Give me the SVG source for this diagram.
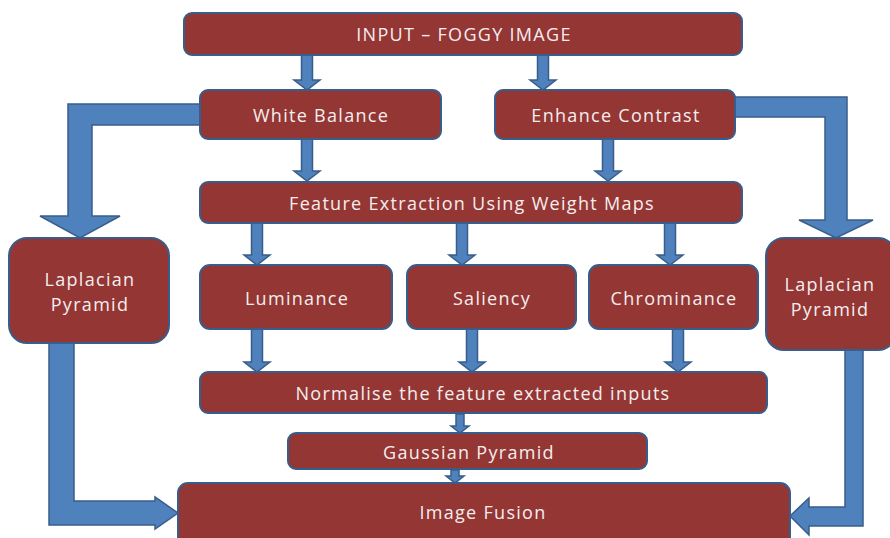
<svg xmlns="http://www.w3.org/2000/svg" width="890" height="538" viewBox="0 0 890 538">
<style>
.box{fill:#943634;stroke:#385d8a;stroke-width:2}
.arr{fill:#4f81bd;stroke:#385d8a;stroke-width:1.5;stroke-linejoin:miter}
.t{font-family:"Open Sans","Liberation Sans",sans-serif;font-size:18px;letter-spacing:1.3px;fill:#f4eeee;text-anchor:middle;dominant-baseline:central}
</style>
<rect width="890" height="538" fill="#ffffff"/>
<g id="connectors">
<path class="arr" d="M301.5 55 L312.5 55 L312.5 80 L320 80 L307 90 L294 80 L301.5 80 Z"/>
<path class="arr" d="M537.5 55 L548.5 55 L548.5 80 L556 80 L543 90 L530 80 L537.5 80 Z"/>
<path class="arr" d="M301.5 139 L312.5 139 L312.5 171 L320 171 L307 181 L294 171 L301.5 171 Z"/>
<path class="arr" d="M602.5 139 L613.5 139 L613.5 171 L621 171 L608 181 L595 171 L602.5 171 Z"/>
<path class="arr" d="M251.5 223 L262.5 223 L262.5 255 L270 255 L257 265 L244 255 L251.5 255 Z"/>
<path class="arr" d="M456.5 223 L467.5 223 L467.5 255 L475 255 L462 265 L449 255 L456.5 255 Z"/>
<path class="arr" d="M664.5 223 L675.5 223 L675.5 255 L683 255 L670 265 L657 255 L664.5 255 Z"/>
<path class="arr" d="M251.5 329 L262.5 329 L262.5 362 L270 362 L257 372 L244 362 L251.5 362 Z"/>
<path class="arr" d="M466.5 329 L477.5 329 L477.5 362 L485 362 L472 372 L459 362 L466.5 362 Z"/>
<path class="arr" d="M672.5 329 L683.5 329 L683.5 362 L691 362 L678 372 L665 362 L672.5 362 Z"/>
<path class="arr" d="M456 414 L464 414 L464 426 L469 426 L460 433 L451 426 L456 426 Z"/>
<path class="arr" d="M451 470 L459 470 L459 476 L464 476 L455 483 L446 476 L451 476 Z"/>
<path class="arr" d="M201 104 L68 104 L68 216 L40 216 L80 238 L120 216 L92 216 L92 125 L201 125 Z"/>
<path class="arr" d="M49 343 L49 525 L155 525 L155 529 L178 513 L155 497 L155 501 L74 501 L74 343 Z"/>
<path class="arr" d="M734 97 L847 97 L847 220 L873 220 L836 238 L799 220 L825 220 L825 117 L734 117 Z"/>
<path class="arr" d="M845 350 L863 350 L863 526 L809 526 L809 535 L790 516 L809 498 L809 507 L845 507 Z"/>
</g>
<g id="input"><rect class="box" x="184" y="13" width="558" height="42" rx="8"/><text class="t" x="464" y="34">INPUT – FOGGY IMAGE</text></g>
<g id="white-balance"><rect class="box" x="200" y="90" width="241" height="49" rx="8"/><text class="t" x="321" y="115">White Balance</text></g>
<g id="enhance-contrast"><rect class="box" x="495" y="90" width="240" height="49" rx="8"/><text class="t" x="616" y="115">Enhance Contrast</text></g>
<g id="feature-extraction"><rect class="box" x="200" y="182" width="542" height="41" rx="8"/><text class="t" x="472" y="203">Feature Extraction Using Weight Maps</text></g>
<g id="laplacian-left"><rect class="box" x="9" y="238" width="160" height="105" rx="18"/><text class="t" x="90" y="279">Laplacian</text><text class="t" x="90" y="304">Pyramid</text></g>
<g id="luminance"><rect class="box" x="200" y="265" width="192" height="64" rx="10"/><text class="t" x="297" y="298">Luminance</text></g>
<g id="saliency"><rect class="box" x="407" y="265" width="169" height="64" rx="10"/><text class="t" x="492" y="298">Saliency</text></g>
<g id="chrominance"><rect class="box" x="589" y="265" width="169" height="64" rx="10"/><text class="t" x="674" y="298">Chrominance</text></g>
<g id="laplacian-right"><rect class="box" x="766" y="238" width="130" height="112" rx="18"/><text class="t" x="830" y="284">Laplacian</text><text class="t" x="830" y="309">Pyramid</text></g>
<g id="normalise"><rect class="box" x="200" y="372" width="567" height="41" rx="8"/><text class="t" x="483" y="393">Normalise the feature extracted inputs</text></g>
<g id="gaussian"><rect class="box" x="288" y="433" width="359" height="36" rx="8"/><text class="t" x="469" y="452">Gaussian Pyramid</text></g>
<g id="image-fusion"><rect class="box" x="178" y="483" width="612" height="70" rx="10"/><text class="t" x="483" y="512">Image Fusion</text></g>
</svg>
